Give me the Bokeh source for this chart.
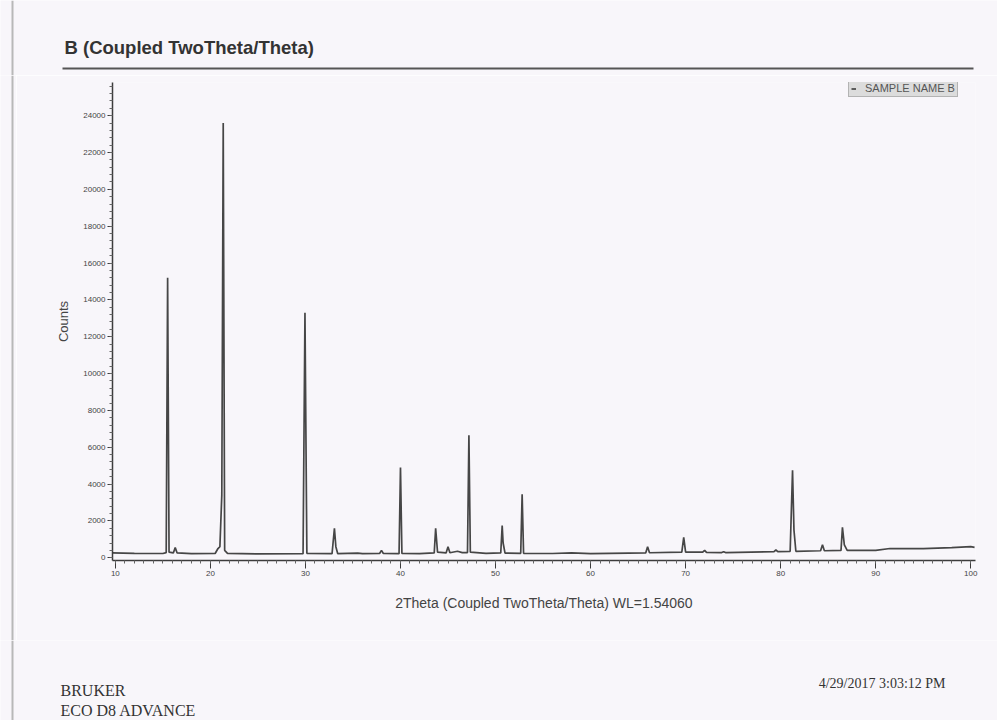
from bokeh.plotting import figure
from bokeh.models import Range1d, SingleIntervalTicker, Legend, LegendItem
from bokeh.layouts import column, row
from bokeh.core.properties import value
from bokeh.embed import file_html
from bokeh.resources import INLINE

# ---- data (2Theta in degrees, Counts) ----
two_theta = [9.6, 12.0, 15.0, 15.35, 15.5, 15.65, 16.1, 16.3, 16.5, 18.0,
             20.5, 20.8, 21.0, 21.2, 21.35, 21.5, 21.8, 25.0, 29.75, 29.95,
             30.15, 32.8, 33.05, 33.2, 33.4, 35.5, 36.0, 37.8, 38.0, 38.2,
             39.85, 40.0, 40.15, 42.0, 43.55, 43.7, 43.9, 44.8, 45.0, 45.2,
             46.0, 46.5, 47.05, 47.2, 47.35, 49.0, 50.55, 50.7, 50.8, 51.0,
             52.65, 52.8, 52.95, 56.0, 58.0, 60.0, 64.0, 65.8, 66.0, 66.2,
             69.6, 69.8, 70.0, 71.8, 72.0, 72.2, 73.8, 74.0, 74.2, 79.3,
             79.5, 79.7, 81.0, 81.25, 81.4, 81.6, 84.2, 84.4, 84.6, 86.35,
             86.5, 86.7, 87.0, 90.0, 91.5, 95.0, 98.0, 100.0, 100.4]
counts = [260, 240, 230, 280, 15200, 300, 260, 550, 260, 220,
          230, 500, 600, 3400, 23600, 400, 240, 210, 220, 13300,
          240, 220, 1600, 600, 220, 250, 220, 230, 400, 230,
          220, 4900, 230, 220, 260, 1600, 300, 260, 600, 270,
          350, 280, 280, 6650, 300, 240, 260, 1750, 800, 250,
          240, 3450, 240, 230, 260, 220, 250, 260, 600, 270,
          300, 1100, 300, 300, 400, 290, 280, 330, 280, 330,
          420, 330, 350, 4750, 1500, 350, 380, 700, 380, 400,
          1650, 700, 400, 400, 500, 500, 550, 600, 560]

title_text = "B (Coupled TwoTheta/Theta)"
x_label = "2Theta (Coupled TwoTheta/Theta) WL=1.54060"
y_label = "Counts"
series_name = "SAMPLE NAME B"
footer_left = ["BRUKER", "ECO D8 ADVANCE"]
footer_right = "4/29/2017 3:03:12 PM"

BG = "#f8f6fa"
INK = "#3c3c3c"
EDGE = "#b8b8b8"
SANS = "Liberation Sans"
SERIF = "Liberation Serif"


def blank(width, height, xr, yr):
    b = figure(width=width, height=height, x_range=xr, y_range=yr,
               output_backend="svg", toolbar_location=None,
               x_axis_type=None, y_axis_type=None, min_border=0)
    b.frame_align = False
    b.outline_line_color = None
    b.grid.visible = False
    b.background_fill_color = BG
    b.border_fill_color = BG
    return b


# ---- header ----
h = blank(997, 75, Range1d(0, 997), Range1d(75, 0))
h.text(x=[64], y=[47], text=[title_text], text_font=value(SANS),
       text_font_size="18.5px", text_font_style="bold", text_color="#333333",
       text_baseline="middle", text_align="left")
h.segment(x0=[62], y0=[68], x1=[973], y1=[68], line_color="#555555", line_width=2)
h.segment(x0=[12], y0=[0], x1=[12], y1=[75], line_color=EDGE, line_width=2)

# ---- left paper edge beside the plot ----
e = blank(16, 565, Range1d(0, 16), Range1d(565, 0))
e.segment(x0=[12], y0=[0], x1=[12], y1=[565], line_color=EDGE, line_width=2)

# ---- main plot ----
p = figure(width=981, height=565, x_range=Range1d(9.7, 100.5), y_range=Range1d(-150, 25800),
           output_backend="svg", toolbar_location=None,
           min_border_left=96, min_border_right=22, min_border_top=7, min_border_bottom=80)
p.frame_align = False
p.outline_line_color = None
p.grid.visible = False
p.background_fill_color = BG
p.border_fill_color = BG

r = p.line(two_theta, counts, line_color="#464646", line_width=1.7)

xa = p.xaxis[0]
xa.ticker = SingleIntervalTicker(interval=10, num_minor_ticks=10)
ya = p.yaxis[0]
ya.ticker = SingleIntervalTicker(interval=2000, num_minor_ticks=5)
for ax in (xa, ya):
    ax.axis_line_color = INK
    ax.axis_line_width = 1.5
    ax.major_tick_line_color = INK
    ax.minor_tick_line_color = "#666666"
    ax.major_tick_in = 0
    ax.minor_tick_in = 0
    ax.major_label_text_font = SANS
    ax.major_label_text_font_size = "8px"
    ax.major_label_text_color = "#444444"
    ax.axis_label_text_font = SANS
    ax.axis_label_text_font_style = "normal"
    ax.axis_label_text_color = "#444444"
xa.major_tick_out = 8
xa.minor_tick_out = 3
ya.major_tick_out = 5
ya.minor_tick_out = 3
xa.major_label_standoff = 2
ya.major_label_standoff = 2
xa.axis_label = x_label
xa.axis_label_text_font_size = "14px"
xa.axis_label_standoff = 16
ya.axis_label = y_label
ya.axis_label_text_font_size = "13px"
ya.axis_label_standoff = 9

legend = Legend(items=[LegendItem(label=series_name, renderers=[r])],
                location=(736, 463), orientation="vertical")
legend.label_text_font = SANS
legend.label_text_font_size = "11px"
legend.label_text_color = "#555555"
legend.glyph_width = 5
legend.glyph_height = 9
legend.label_standoff = 9
legend.padding = 2
legend.spacing = 0
legend.margin = 0
legend.label_height = 9
legend.background_fill_color = "#dcdcdc"
legend.background_fill_alpha = 1.0
legend.border_line_color = "#8a8a8a"
p.add_layout(legend, "center")

# ---- footer ----
f = blank(997, 80, Range1d(0, 997), Range1d(720, 640))
f.text(x=[60, 60], y=[690, 710], text=footer_left, text_font=value(SERIF),
       text_font_size="16px", text_color="#333333", text_baseline="middle", text_align="left")
f.text(x=[945], y=[683], text=[footer_right], text_font=value(SERIF),
       text_font_size="14px", text_color="#333333", text_baseline="middle", text_align="right")
f.segment(x0=[12], y0=[640], x1=[12], y1=[720], line_color=EDGE, line_width=2)

layout = column(h, row(e, p, spacing=0), f, spacing=0)
open("out.html", "w").write(file_html(layout, INLINE))
